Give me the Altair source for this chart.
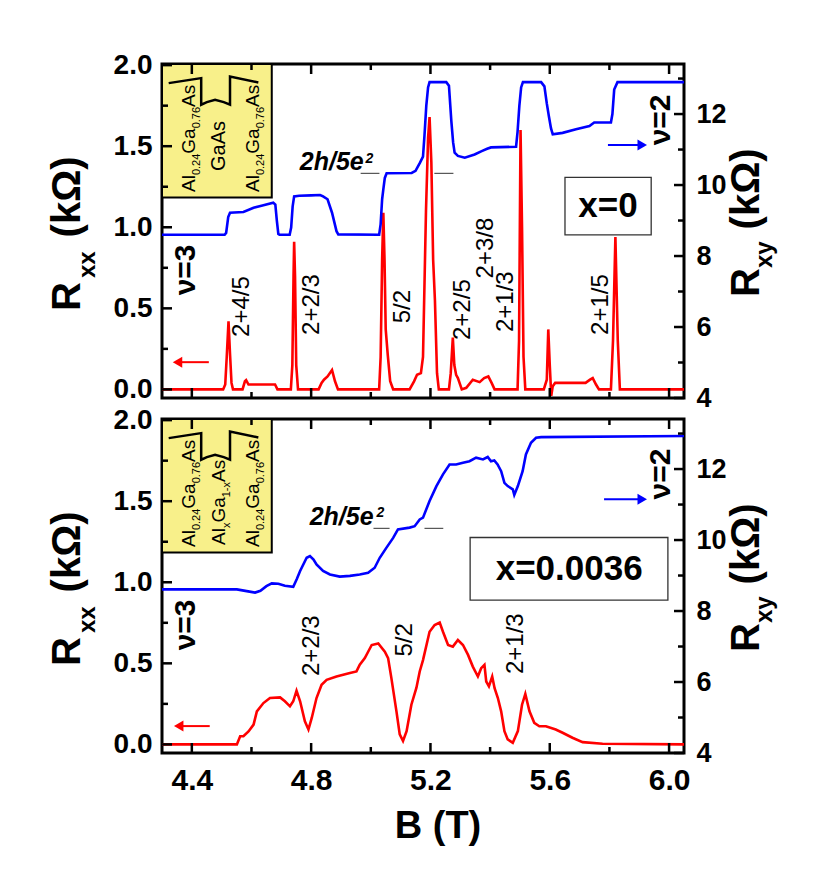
import altair as alt
import pandas as pd

FONT = "Liberation Sans"

# ---------------- data ----------------
# upper panel (x = 0): R_xx in kOhm
top_rxx_B = [4.30, 4.505, 4.512, 4.517, 4.523, 4.528, 4.533, 4.538, 4.570, 4.578,
             4.582, 4.590, 4.679, 4.687, 4.732, 4.737, 4.741, 4.743, 4.746, 4.750,
             4.756, 4.825, 4.835, 4.843, 4.855, 4.870, 4.880, 4.890, 5.028, 5.033,
             5.038, 5.042, 5.046, 5.050, 5.057, 5.065, 5.075, 5.130, 5.145, 5.155,
             5.168, 5.175, 5.185, 5.192, 5.197, 5.203, 5.209, 5.215, 5.222, 5.228,
             5.262, 5.268, 5.275, 5.280, 5.286, 5.292, 5.305, 5.320, 5.342, 5.365,
             5.380, 5.394, 5.405, 5.415, 5.492, 5.497, 5.502, 5.507, 5.512, 5.518,
             5.580, 5.590, 5.595, 5.600, 5.605, 5.610, 5.618, 5.720, 5.735, 5.744,
             5.755, 5.765, 5.805, 5.812, 5.820, 5.828, 5.835, 6.05]
top_rxx = [0.00, 0.00, 0.03, 0.20, 0.42, 0.22, 0.04, 0.00, 0.00, 0.05,
           0.057, 0.03, 0.03, 0.00, 0.00, 0.15, 0.70, 0.91, 0.70, 0.15,
           0.00, 0.00, 0.04, 0.06, 0.08, 0.12, 0.05, 0.00, 0.00, 0.20,
           0.80, 1.09, 0.80, 0.37, 0.21, 0.05, 0.00, 0.00, 0.05, 0.09,
           0.10, 0.20, 1.10, 1.55, 1.68, 1.40, 0.80, 0.55, 0.10, 0.00,
           0.00, 0.10, 0.32, 0.15, 0.09, 0.07, 0.00, 0.01, 0.06, 0.045,
           0.07, 0.08, 0.04, 0.00, 0.00, 0.30, 1.60, 1.00, 0.20, 0.00,
           0.00, 0.06, 0.37, 0.15, -0.04, 0.02, 0.04, 0.04, 0.06, 0.07,
           0.03, 0.00, 0.00, 0.30, 0.94, 0.30, 0.00, 0.00]

# upper panel (x = 0): R_xy in kOhm
top_rxy_B = [4.30, 4.510, 4.515, 4.522, 4.528, 4.573, 4.607, 4.640, 4.673, 4.680,
             4.685, 4.690, 4.694, 4.728, 4.733, 4.738, 4.743, 4.760, 4.800, 4.830,
             4.840, 4.855, 4.870, 4.885, 4.891, 5.028, 5.033, 5.038, 5.042, 5.047,
             5.053, 5.137, 5.150, 5.165, 5.175, 5.180, 5.186, 5.192, 5.197, 5.253,
             5.262, 5.270, 5.276, 5.281, 5.292, 5.315, 5.348, 5.370, 5.390, 5.403,
             5.487, 5.492, 5.498, 5.504, 5.510, 5.571, 5.582, 5.590, 5.597, 5.604,
             5.610, 5.643, 5.688, 5.733, 5.749, 5.805, 5.810, 5.816, 5.827, 6.05]
top_rxy = [8.60, 8.60, 8.65, 9.10, 9.22, 9.24, 9.36, 9.43, 9.50, 9.45,
           9.00, 8.62, 8.60, 8.60, 8.80, 9.40, 9.68, 9.70, 9.71, 9.72,
           9.68, 9.60, 9.22, 8.70, 8.61, 8.60, 8.90, 9.60, 9.88, 10.20,
           10.33, 10.34, 10.40, 10.63, 10.80, 11.40, 12.23, 12.75, 12.90, 12.90,
           12.80, 11.80, 11.20, 10.91, 10.82, 10.77, 10.86, 10.95, 11.02, 11.06,
           11.08, 11.50, 12.23, 12.75, 12.90, 12.90, 12.78, 12.30, 11.94, 11.60,
           11.43, 11.47, 11.57, 11.66, 11.76, 11.76, 12.00, 12.69, 12.90, 12.90]

# lower panel (x = 0.0036): R_xx in kOhm
bot_rxx_B = [4.30, 4.551, 4.562, 4.573, 4.590, 4.607, 4.618, 4.640, 4.662, 4.696,
             4.712, 4.729, 4.740, 4.751, 4.763, 4.779, 4.791, 4.802, 4.818, 4.835,
             4.852, 4.885, 4.930, 4.952, 4.963, 4.980, 5.003, 5.025, 5.047, 5.058,
             5.069, 5.086, 5.097, 5.108, 5.120, 5.136, 5.153, 5.164, 5.175, 5.197,
             5.214, 5.231, 5.242, 5.259, 5.275, 5.292, 5.309, 5.326, 5.342, 5.359,
             5.370, 5.381, 5.387, 5.396, 5.407, 5.415, 5.426, 5.437, 5.448, 5.459,
             5.476, 5.493, 5.507, 5.518, 5.532, 5.548, 5.565, 5.587, 5.620, 5.643,
             5.676, 5.710, 5.777, 6.05]
bot_rxx = [0.00, 0.00, 0.05, 0.05, 0.08, 0.122, 0.204, 0.255, 0.286, 0.290,
           0.266, 0.235, 0.266, 0.331, 0.266, 0.143, 0.092, 0.163, 0.286, 0.368,
           0.398, 0.419, 0.440, 0.450, 0.491, 0.532, 0.613, 0.623, 0.572, 0.532,
           0.409, 0.204, 0.062, 0.021, 0.082, 0.245, 0.35, 0.45, 0.52, 0.695,
           0.736, 0.752, 0.695, 0.613, 0.603, 0.644, 0.613, 0.552, 0.480, 0.419,
           0.470, 0.491, 0.388, 0.358, 0.419, 0.347, 0.286, 0.204, 0.082, 0.031,
           0.010, 0.082, 0.245, 0.311, 0.204, 0.133, 0.112, 0.112, 0.092, 0.072,
           0.041, 0.014, 0.004, 0.00]

# lower panel (x = 0.0036): R_xy in kOhm
bot_rxy_B = [4.30, 4.551, 4.584, 4.612, 4.630, 4.650, 4.668, 4.690, 4.712, 4.740,
             4.752, 4.763, 4.785, 4.796, 4.808, 4.818, 4.840, 4.863, 4.896, 4.930,
             4.963, 4.991, 5.013, 5.030, 5.052, 5.075, 5.091, 5.130, 5.147, 5.164,
             5.175, 5.197, 5.220, 5.242, 5.264, 5.286, 5.309, 5.331, 5.353, 5.376,
             5.392, 5.403, 5.414, 5.425, 5.437, 5.448, 5.459, 5.476, 5.481, 5.493,
             5.509, 5.520, 5.537, 5.554, 5.571, 6.05]
bot_rxy = [8.61, 8.61, 8.56, 8.52, 8.57, 8.70, 8.78, 8.77, 8.71, 8.68,
           8.90, 9.13, 9.50, 9.55, 9.45, 9.31, 9.13, 9.03, 8.97, 8.99,
           9.03, 9.08, 9.22, 9.50, 9.78, 10.06, 10.30, 10.35, 10.39, 10.58,
           10.63, 11.10, 11.52, 11.85, 12.13, 12.13, 12.18, 12.22, 12.32, 12.27,
           12.34, 12.22, 12.24, 12.13, 11.94, 11.61, 11.52, 11.43, 11.27, 11.52,
           11.94, 12.41, 12.74, 12.88, 12.90, 12.93]

# tick values
x_major = [4.4, 4.8, 5.2, 5.6, 6.0]
x_minor = [4.6, 5.0, 5.4, 5.8]
rxx_major = [0.0, 0.5, 1.0, 1.5, 2.0]
rxx_minor = [0.25, 0.75, 1.25, 1.75]
rxy_major = [4, 6, 8, 10, 12]
rxy_minor = [5, 7, 9, 11, 13]

# filling-factor labels (text, B, R_xx position)
top_labels = ["2+4/5", "2+2/3", "5/2", "2+2/5", "2+3/8", "2+1/3", "2+1/5"]
top_label_B = [4.568, 4.802, 5.108, 5.309, 5.387, 5.454, 5.772]
top_label_R = [0.511, 0.523, 0.511, 0.492, 0.872, 0.541, 0.523]
bot_labels = ["2+2/3", "5/2", "2+1/3"]
bot_label_B = [4.802, 5.113, 5.487]
bot_label_R = [0.609, 0.645, 0.621]

plateau_52 = 10.33   # 2h/5e^2 in kOhm

assert len(top_rxx_B) == len(top_rxx)
assert len(top_rxy_B) == len(top_rxy)
assert len(bot_rxx_B) == len(bot_rxx)
assert len(bot_rxy_B) == len(bot_rxy)

# ---------------- geometry ----------------
W, H = 522, 334
XDOM = [4.3, 6.05]
RXX_DOM = [-0.053, 2.007]
RXY_DOM = [4.0, 13.41]


def bx(px):
    return XDOM[0] + px * (XDOM[1] - XDOM[0]) / W


def ry(py):
    return RXX_DOM[1] - py * (RXX_DOM[1] - RXX_DOM[0]) / H


REG = {'A': 0.667, 'l': 0.222, 'G': 0.778, 'a': 0.556, 's': 0.5, '.': 0.278,
       'x': 0.5, '-': 0.333}
BOLD = {'R': 0.722, 'x': 0.556, 'y': 0.556, '(': 0.333, ')': 0.333, 'k': 0.556,
        'Ω': 0.768}


def tw(text, size, table):
    return sum(table.get(c, 0.556) for c in text) * size


def column(parts, base_px, start_py, table):
    rows = []
    cur = start_py
    for p in parts:
        if p[0] is None:
            cur -= p[1]
            continue
        text, size, shift = p
        rows.append(dict(B=bx(base_px + shift), y=ry(cur), t=text, s=size))
        cur -= tw(text, size, table)
    return rows


sc_x = alt.Scale(domain=XDOM, nice=False, zero=False)
sc_xx = alt.Scale(domain=RXX_DOM, nice=False, zero=False)
sc_xy = alt.Scale(domain=RXY_DOM, nice=False, zero=False)

ax_xx = alt.Axis(values=rxx_major, format=".1f", ticks=False, domain=False, grid=False,
                 labelFont=FONT, labelFontSize=28, labelFontWeight="bold",
                 labelColor="black", labelPadding=10, labelOverlap=False,
                 labelFlush=False, title=None, orient="left")
ax_xy = alt.Axis(values=rxy_major, format="d", ticks=False, domain=False, grid=False,
                 labelFont=FONT, labelFontSize=27, labelFontWeight="bold",
                 labelColor="black", labelPadding=12, labelOverlap=False,
                 labelFlush=False, title=None, orient="right")
ax_x_bottom = alt.Axis(values=x_major, format=".1f", ticks=False, domain=False,
                       grid=False, labelFont=FONT, labelFontSize=30,
                       labelFontWeight="bold", labelColor="black", labelPadding=12,
                       labelOverlap=False, labelFlush=False, title=None)

BLACK = "black"
RED = "#ff0000"
BLUE = "#0000ff"
YELLOW = "#f8f08a"


def panel(rxx_B, rxx, rxy_B, rxy, labels, label_B, label_R, col2_parts, col2_start,
          sup_pos, txt_pos, dashes, box, box_text, red_arrow, blue_arrow,
          nu3_R, nu2_R, bottom):
    X = alt.X("B:Q", scale=sc_x, axis=ax_x_bottom if bottom else None)
    Yxx = alt.Y("y:Q", scale=sc_xx, axis=ax_xx)
    Yxy = alt.Y("y:Q", scale=sc_xy, axis=ax_xy)

    # ---- R_xx group ----
    la = []
    inset = pd.DataFrame([dict(B=bx(0), B2=4.668, y=RXX_DOM[1], y2=1.184)])
    la.append(alt.Chart(inset).mark_rect(fill=YELLOW, stroke=BLACK, strokeWidth=2).encode(
        x=X, x2="B2:Q", y=Yxx, y2="y2:Q"))
    well = pd.DataFrame(dict(
        B=[4.3224, 4.4314, 4.4314, 4.4505, 4.478, 4.507, 4.528, 4.528, 4.623],
        y=[1.889, 1.920, 1.756, 1.772, 1.786, 1.772, 1.756, 1.930, 1.893],
        i=list(range(9))))
    la.append(alt.Chart(well).mark_line(color=BLACK, strokeWidth=2.5).encode(
        x=X, y=Yxx, order="i:Q"))
    # inset layer names
    col_al = [("Al", 19, 0), ("0.24", 11, 5), ("Ga", 19, 0), ("0.76", 11, 5), ("As", 19, 0)]
    rows = column(col_al, 33, 128, REG) + column(col2_parts, 63, col2_start, REG) \
        + column(col_al, 97, 128, REG)
    la.append(alt.Chart(pd.DataFrame(rows)).mark_text(
        angle=270, align="left", baseline="alphabetic", font=FONT, color=BLACK).encode(
        x=X, y=Yxx, text="t:N", size=alt.Size("s:Q", scale=None, legend=None)))

    # curve
    la.append(alt.Chart(pd.DataFrame(dict(B=rxx_B, y=rxx))).mark_line(
        color=RED, strokeWidth=2.6).encode(x=X, y=Yxx))

    # filling factor labels
    la.append(alt.Chart(pd.DataFrame(dict(B=label_B, y=label_R, t=labels))).mark_text(
        angle=270, align="center", baseline="middle", font=FONT, fontSize=24,
        color=BLACK).encode(x=X, y=Yxx, text="t:N"))
    # nu labels
    la.append(alt.Chart(pd.DataFrame(dict(B=[4.382, 5.972], y=[nu3_R, nu2_R],
                                          t=["ν=3", "ν=2"]))).mark_text(
        angle=270, align="center", baseline="middle", font=FONT, fontSize=30,
        fontWeight="bold", color=BLACK).encode(x=X, y=Yxx, text="t:N"))
    # sample box
    la.append(alt.Chart(pd.DataFrame([dict(B=box[0], B2=box[1], y=box[2], y2=box[3])])).mark_rect(
        fill="white", stroke="#333333", strokeWidth=1.3).encode(x=X, x2="B2:Q", y=Yxx, y2="y2:Q"))
    la.append(alt.Chart(pd.DataFrame([dict(B=box_text[0], y=box_text[1], t=box_text[2])])).mark_text(
        align="center", baseline="middle", font=FONT, fontSize=35, fontWeight="bold",
        color=BLACK).encode(x=X, y=Yxx, text="t:N"))
    # 2h/5e^2
    la.append(alt.Chart(pd.DataFrame([dict(B=txt_pos[0], y=txt_pos[1], t="2h/5e")])).mark_text(
        align="left", baseline="alphabetic", font=FONT, fontSize=25, fontWeight="bold",
        fontStyle="italic", color=BLACK).encode(x=X, y=Yxx, text="t:N"))
    la.append(alt.Chart(pd.DataFrame([dict(B=sup_pos[0], y=sup_pos[1], t="2")])).mark_text(
        align="left", baseline="alphabetic", font=FONT, fontSize=14, fontWeight="bold",
        fontStyle="italic", color=BLACK).encode(x=X, y=Yxx, text="t:N"))
    # red arrow
    la.append(alt.Chart(pd.DataFrame(dict(B=[red_arrow[0], red_arrow[1]],
                                          y=[red_arrow[2], red_arrow[2]]))).mark_line(
        color=RED, strokeWidth=2).encode(x=X, y=Yxx))
    la.append(alt.Chart(pd.DataFrame([dict(B=red_arrow[3], y=red_arrow[2])])).mark_point(
        shape="triangle-left", filled=True, size=120, color=RED, opacity=1).encode(x=X, y=Yxx))
    # axis titles (with subscripts)
    left_title = [("R", 40, 0), (None, 4), ("xx", 24, 15), (None, 14), ("(kΩ)", 40, 0)]
    right_title = [("R", 40, 0), ("xy", 24, 13), (None, 12), ("(kΩ)", 40, 0)]
    trows = column(left_title, -82, 247, BOLD) + column(right_title, 597, 233, BOLD)
    la.append(alt.Chart(pd.DataFrame(trows)).mark_text(
        angle=270, align="left", baseline="alphabetic", font=FONT, fontWeight="bold",
        color=BLACK).encode(x=X, y=Yxx, text="t:N",
                            size=alt.Size("s:Q", scale=None, legend=None)))
    if bottom:
        la.append(alt.Chart(pd.DataFrame([dict(B=bx(276), y=ry(419), t="B (T)")])).mark_text(
            align="center", baseline="alphabetic", font=FONT, fontSize=38,
            fontWeight="bold", color=BLACK).encode(x=X, y=Yxx, text="t:N"))
    # inward ticks: left (R_xx)
    for vals, ln in ((rxx_major, 10), (rxx_minor, 6)):
        la.append(alt.Chart(pd.DataFrame(dict(y=vals))).mark_rule(
            color=BLACK, strokeWidth=2.5).encode(y=Yxx, x=alt.value(0), x2=alt.value(ln)))
    # inward ticks: bottom and top (B)
    for vals, ln in ((x_major, 10), (x_minor, 6)):
        df = pd.DataFrame(dict(B=vals))
        la.append(alt.Chart(df).mark_rule(color=BLACK, strokeWidth=2.5).encode(
            x=X, y=alt.value(H), y2=alt.value(H - ln)))
        la.append(alt.Chart(df).mark_rule(color=BLACK, strokeWidth=2.5).encode(
            x=X, y=alt.value(0), y2=alt.value(ln)))
    g_xx = alt.layer(*la)

    # ---- R_xy group ----
    lb = []
    lb.append(alt.Chart(pd.DataFrame(dict(B=rxy_B, y=rxy))).mark_line(
        color=BLUE, strokeWidth=2.6).encode(x=X, y=Yxy))
    dd = pd.DataFrame(dict(B=[d[0] for d in dashes], B2=[d[1] for d in dashes],
                           y=[plateau_52] * len(dashes)))
    lb.append(alt.Chart(dd).mark_rule(color="#333333", strokeWidth=1).encode(
        x=X, x2="B2:Q", y=Yxy))
    lb.append(alt.Chart(pd.DataFrame(dict(B=[blue_arrow[0], blue_arrow[1]],
                                          y=[blue_arrow[2], blue_arrow[2]]))).mark_line(
        color=BLUE, strokeWidth=2).encode(x=X, y=Yxy))
    lb.append(alt.Chart(pd.DataFrame([dict(B=blue_arrow[3], y=blue_arrow[2])])).mark_point(
        shape="triangle-right", filled=True, size=120, color=BLUE, opacity=1).encode(x=X, y=Yxy))
    for vals, ln in ((rxy_major, 10), (rxy_minor, 6)):
        lb.append(alt.Chart(pd.DataFrame(dict(y=vals))).mark_rule(
            color=BLACK, strokeWidth=2.5).encode(y=Yxy, x=alt.value(W - ln), x2=alt.value(W)))
    g_xy = alt.layer(*lb)

    return alt.layer(g_xx, g_xy).resolve_scale(y="independent").properties(width=W, height=H)


top = panel(top_rxx_B, top_rxx, top_rxy_B, top_rxy, top_labels, top_label_B, top_label_R,
            col2_parts=[("GaAs", 20, 0)], col2_start=82 + tw("GaAs", 20, REG) / 2,
            sup_pos=(4.982, 1.399), txt_pos=(4.762, 1.356),
            dashes=[(4.966, 5.029), (5.213, 5.277)],
            box=(5.651, 5.94, 0.953, 1.308), box_text=(5.795, 1.129, "x=0"),
            red_arrow=(4.36, 4.457, 0.168, 4.352), blue_arrow=(5.795, 5.905, 11.13, 5.91),
            nu3_R=0.737, nu2_R=1.662, bottom=False)

bottom = panel(bot_rxx_B, bot_rxx, bot_rxy_B, bot_rxy, bot_labels, bot_label_B, bot_label_R,
               col2_parts=[("Al", 19, 0), ("x", 11, 5), ("Ga", 19, 0), ("1-x", 11, 5),
                           ("As", 19, 0)], col2_start=126,
               sup_pos=(5.019, 1.405), txt_pos=(4.795, 1.356),
               dashes=[(5.009, 5.063), (5.18, 5.243)],
               box=(5.333, 5.996, 0.89, 1.276), box_text=(5.665, 1.08, "x=0.0036"),
               red_arrow=(4.365, 4.46, 0.113, 4.356), blue_arrow=(5.782, 5.905, 11.15, 5.91),
               nu3_R=0.737, nu2_R=1.668, bottom=True)

chart = alt.vconcat(top, bottom, spacing=21, bounds="flush").properties(
    padding={"left": 38, "top": 41, "right": 5, "bottom": 5},
    background="white",
).configure_view(stroke="black", strokeWidth=3)

chart.save("out.html", embed_options={"renderer": "svg", "actions": False})
